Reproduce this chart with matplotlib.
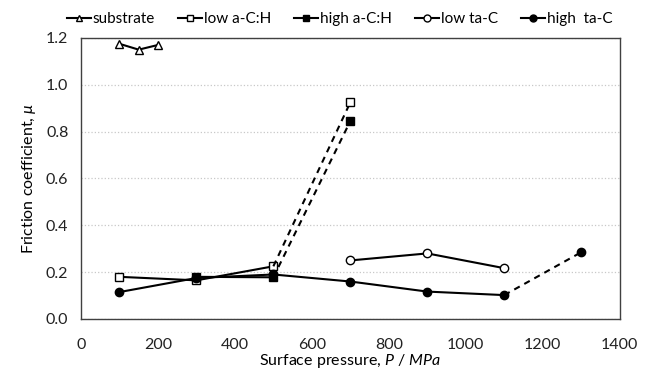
import matplotlib
matplotlib.use("Agg")
import matplotlib.pyplot as plt
from matplotlib.lines import Line2D

plt.rcParams['font.family'] = ['Lato', 'DejaVu Sans']
plt.rcParams['mathtext.fontset'] = 'custom'
plt.rcParams['mathtext.it'] = 'Lato:italic'
plt.rcParams['mathtext.rm'] = 'Lato'

# data
sub_p = [100, 150, 200]
sub_mu = [1.175, 1.15, 1.17]

low_ach_p = [100, 300, 500, 700]
low_ach_mu = [0.18, 0.165, 0.225, 0.925]

high_ach_p = [300, 500, 700]
high_ach_mu = [0.18, 0.178, 0.845]

low_tac_p = [700, 900, 1100]
low_tac_mu = [0.25, 0.28, 0.217]

high_tac_p = [100, 300, 500, 700, 900, 1100, 1300]
high_tac_mu = [0.115, 0.175, 0.19, 0.16, 0.117, 0.102, 0.285]

fig = plt.figure(figsize=(6.53, 3.72), dpi=100)
ax = fig.add_axes([0.124, 0.1425, 0.825, 0.7555])

lw = 1.5
ms = 6

def split_plot(x, y, marker, mfc, ms_):
    # solid up to the last point, dashed for the last segment
    ax.plot(x[:-1], y[:-1], color='black', lw=lw, marker=marker, mfc=mfc,
            mec='black', ms=ms_, zorder=3)
    ax.plot(x[-2:], y[-2:], color='black', lw=lw, ls=(0, (3, 2.5)),
            marker=marker, mfc=mfc, mec='black', ms=ms_, markevery=[1], zorder=3)

ax.plot(sub_p, sub_mu, color='black', lw=lw, marker='^', mfc='white', mec='black', ms=ms, zorder=3)
split_plot(low_ach_p, low_ach_mu, 's', 'white', ms)
split_plot(high_ach_p, high_ach_mu, 's', 'black', ms - 0.5)
ax.plot(low_tac_p, low_tac_mu, color='black', lw=lw, marker='o', mfc='white', mec='black', ms=ms, zorder=3)
split_plot(high_tac_p, high_tac_mu, 'o', 'black', ms)

ax.set_xlim(0, 1400)
ax.set_ylim(0, 1.2)
ax.set_xticks(range(0, 1401, 200))
ax.set_yticks([0, 0.2, 0.4, 0.6, 0.8, 1.0, 1.2])
ax.set_yticklabels([f'{v:.1f}' for v in [0, 0.2, 0.4, 0.6, 0.8, 1.0, 1.2]])
ax.tick_params(axis='both', length=0, labelsize=11.5, colors='#222222')
ax.tick_params(axis='x', pad=14)
ax.tick_params(axis='y', pad=9)
ax.grid(axis='y', color='#c8c8c8', ls=':', lw=0.9)
for s in ax.spines.values():
    s.set_color('#404040')
    s.set_linewidth(1.0)

ax.set_xlabel('Surface pressure, $P$ / $MPa$', fontsize=11.5, labelpad=0)
ax.set_ylabel('Friction coefficient, $\\mu$', fontsize=11.5, labelpad=6)

handles = [
    Line2D([], [], color='black', lw=lw, marker='^', mfc='white', mec='black', ms=5),
    Line2D([], [], color='black', lw=lw, marker='s', mfc='white', mec='black', ms=5),
    Line2D([], [], color='black', lw=lw, marker='s', mfc='black', mec='black', ms=5),
    Line2D([], [], color='black', lw=lw, marker='o', mfc='white', mec='black', ms=5),
    Line2D([], [], color='black', lw=lw, marker='o', mfc='black', mec='black', ms=5),
]
labels = ['substrate', 'low a-C:H', 'high a-C:H', 'low ta-C', 'high  ta-C']
fig.legend(handles, labels, loc='center', bbox_to_anchor=(0.52, 0.948), ncol=5,
           frameon=False, fontsize=11, handlelength=1.6, handletextpad=0.1,
           columnspacing=1.5)

fig.savefig('out.png', dpi=100)
